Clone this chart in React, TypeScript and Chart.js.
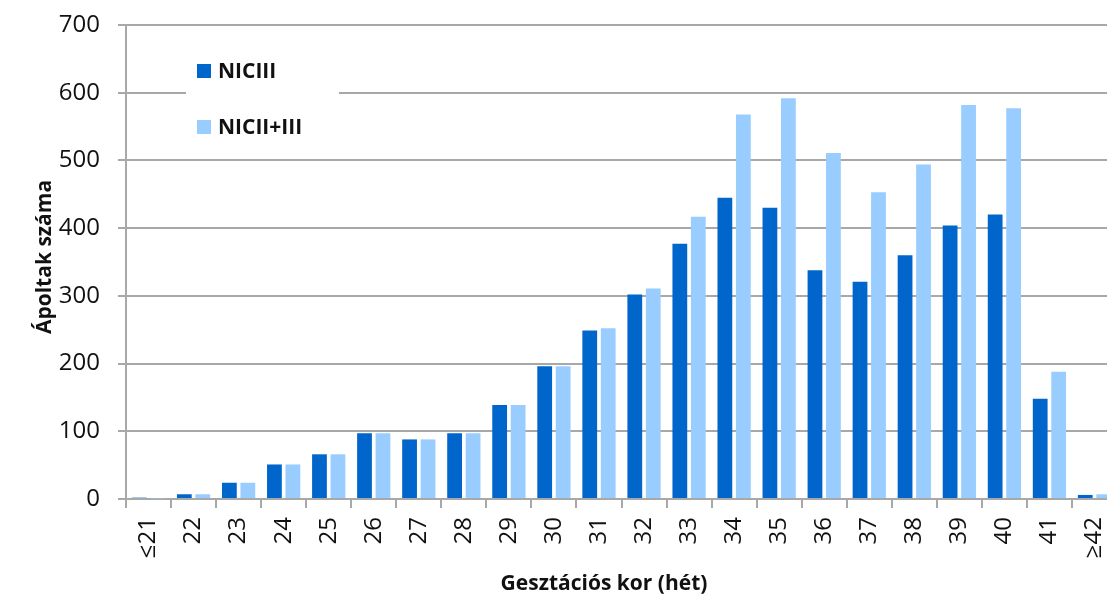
import React, { useEffect, useRef } from "react";
import { Chart, registerables } from "chart.js";

Chart.register(...registerables);

const categories = ["≤21", "22", "23", "24", "25", "26", "27", "28", "29", "30", "31", "32", "33", "34", "35", "36", "37", "38", "39", "40", "41", "≥42"];
const nicIII = [2, 7, 24, 51, 66, 97, 88, 97, 139, 196, 249, 302, 377, 445, 430, 338, 321, 360, 404, 420, 148, 6];
const nicIIandIII = [1, 7, 24, 51, 66, 97, 88, 97, 139, 196, 252, 311, 417, 568, 592, 511, 453, 494, 582, 577, 188, 7];
const seriesNames = ["NICIII", "NICII+III"];
const yTicks = [0, 100, 200, 300, 400, 500, 600, 700];
const xTitle = "Gesztációs kor (hét)";
const yTitle = "Ápoltak száma";

const FONT = "'Open Sans', 'Noto Sans', sans-serif";
const GRID = "#a8a8a8";

const decorPlugin = {
  id: "decor",
  afterDraw(chart: any) {
    const ctx = chart.ctx;
    ctx.save();
    // legend box
    ctx.fillStyle = "#ffffff";
    ctx.fillRect(186, 40, 153, 110);
    const ys = [71, 127];
    ctx.font = `bold 21px ${FONT}`;
    ctx.textBaseline = "middle";
    ctx.textAlign = "left";
    chart.data.datasets.forEach((ds: any, i: number) => {
      ctx.fillStyle = ds.backgroundColor;
      ctx.fillRect(197, ys[i] - 7, 14, 14);
      ctx.fillStyle = "#111";
      ctx.fillText(ds.label, 218, ys[i] + 1);
    });
    // axis titles
    ctx.textAlign = "center";
    ctx.fillStyle = "#111";
    ctx.fillText(xTitle, 604, 584);
    ctx.translate(45, 257);
    ctx.rotate(-Math.PI / 2);
    ctx.fillText(yTitle, 0, 0);
    ctx.restore();
  },
};

export default function App() {
  const ref = useRef<HTMLCanvasElement | null>(null);
  useEffect(() => {
    document.body.style.margin = "0";
    const canvas = ref.current!;
    const chart = new Chart(canvas, {
      type: "bar",
      data: {
        labels: categories,
        datasets: [
          { label: seriesNames[0], data: nicIII, backgroundColor: "#0066CC", categoryPercentage: 0.82, barPercentage: 0.8 },
          { label: seriesNames[1], data: nicIIandIII, backgroundColor: "#99CCFF", categoryPercentage: 0.82, barPercentage: 0.8 },
        ],
      },
      options: {
        responsive: false,
        animation: false,
        layout: { padding: { top: 25, left: 0, right: 0, bottom: 0 } },
        plugins: { legend: { display: false }, tooltip: { enabled: false } },
        scales: {
          x: {
            afterFit: (s: any) => { s.height = 100; s.paddingLeft = 0; s.paddingRight = 0; s.paddingTop = 0; s.paddingBottom = 0; },
            grid: { display: true, drawOnChartArea: false, drawTicks: true, tickLength: 9, color: GRID, lineWidth: 2 },
            border: { display: true, color: GRID, width: 2 },
            ticks: { font: { family: FONT, size: 24 }, color: "#111", minRotation: 90, maxRotation: 90, padding: 9, autoSkip: false },
          },
          y: {
            min: 0,
            max: 700,
            afterFit: (s: any) => { s.width = 126; s.paddingTop = 0; s.paddingBottom = 0; s.paddingLeft = 0; s.paddingRight = 0; },
            afterBuildTicks: (s: any) => { s.ticks = yTicks.map((v) => ({ value: v })); },
            grid: { color: GRID, lineWidth: 2, drawTicks: true, tickLength: 8 },
            border: { display: true, color: GRID, width: 2 },
            ticks: { font: { family: FONT, size: 24 }, color: "#111", padding: 18 },
          },
        },
      },
      plugins: [decorPlugin],
    });
    return () => chart.destroy();
  }, []);
  return (
    <div style={{ width: 1107, height: 599, overflow: "hidden", position: "relative", background: "#fff" }}>
      <canvas ref={ref} width={1117} height={599} style={{ display: "block" }} />
    </div>
  );
}
